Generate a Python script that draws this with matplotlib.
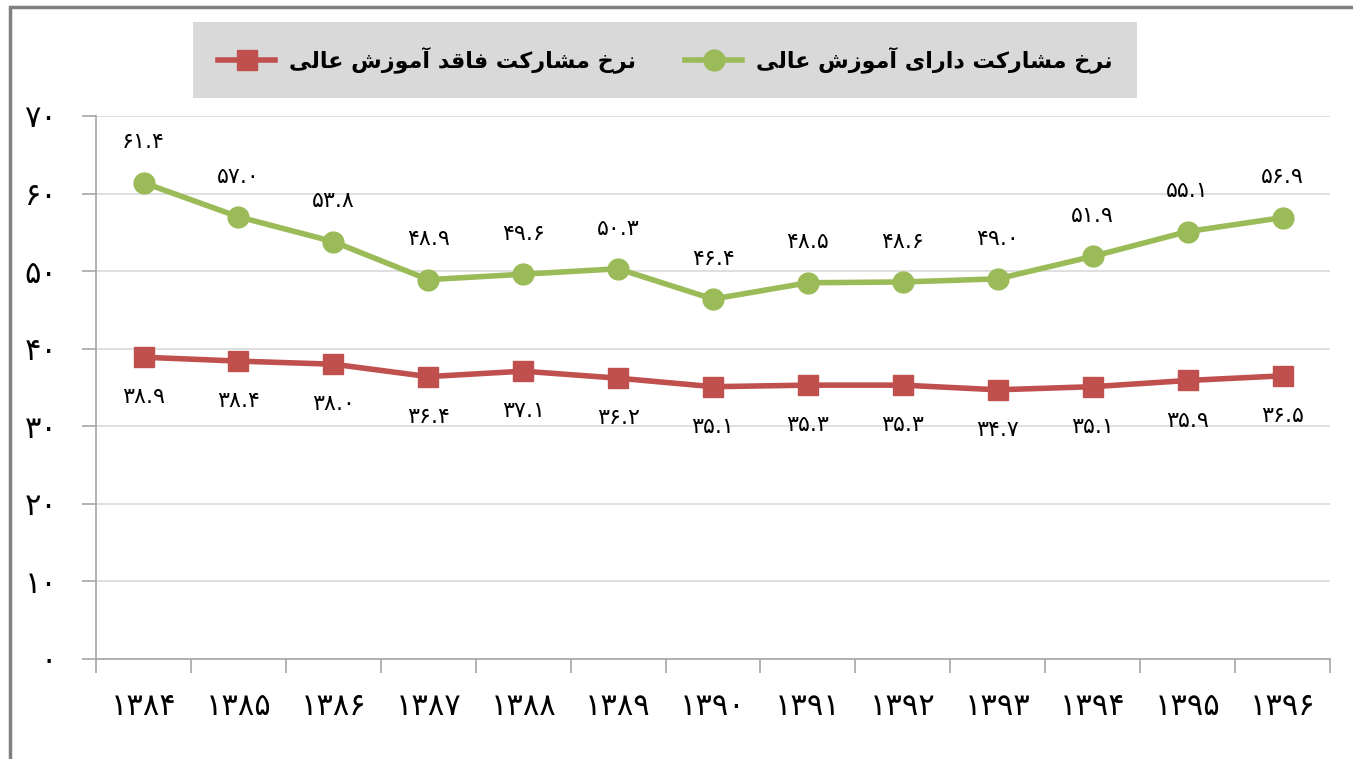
import matplotlib
matplotlib.use("Agg")
import matplotlib.pyplot as plt
from matplotlib.patches import Rectangle

# data
years = ['۱۳۸۴', '۱۳۸۵', '۱۳۸۶', '۱۳۸۷', '۱۳۸۸', '۱۳۸۹', '۱۳۹۰',
         '۱۳۹۱', '۱۳۹۲', '۱۳۹۳', '۱۳۹۴', '۱۳۹۵', '۱۳۹۶']
with_higher_edu = [61.4, 57.0, 53.8, 48.9, 49.6, 50.3, 46.4, 48.5, 48.6, 49.0, 51.9, 55.1, 56.9]
without_higher_edu = [38.9, 38.4, 38.0, 36.4, 37.1, 36.2, 35.1, 35.3, 35.3, 34.7, 35.1, 35.9, 36.5]
label_green = 'نرخ مشارکت دارای آموزش عالی'
label_red = 'نرخ مشارکت فاقد آموزش عالی'
yticks = [0, 10, 20, 30, 40, 50, 60, 70]

# minimal arabic/persian shaping: (isolated, final, initial, medial)
FORMS = {
    'ا': ('\uFE8D', '\uFE8E', None, None),
    'آ': ('\uFE81', '\uFE82', None, None),
    'د': ('\uFEA9', '\uFEAA', None, None),
    'ر': ('\uFEAD', '\uFEAE', None, None),
    'ز': ('\uFEAF', '\uFEB0', None, None),
    'و': ('\uFEED', '\uFEEE', None, None),
    'ت': ('\uFE95', '\uFE96', '\uFE97', '\uFE98'),
    'خ': ('\uFEA5', '\uFEA6', '\uFEA7', '\uFEA8'),
    'ش': ('\uFEB5', '\uFEB6', '\uFEB7', '\uFEB8'),
    'ع': ('\uFEC9', '\uFECA', '\uFECB', '\uFECC'),
    'ف': ('\uFED1', '\uFED2', '\uFED3', '\uFED4'),
    'ق': ('\uFED5', '\uFED6', '\uFED7', '\uFED8'),
    'ل': ('\uFEDD', '\uFEDE', '\uFEDF', '\uFEE0'),
    'م': ('\uFEE1', '\uFEE2', '\uFEE3', '\uFEE4'),
    'ن': ('\uFEE5', '\uFEE6', '\uFEE7', '\uFEE8'),
    'ک': ('\uFB8E', '\uFB8F', '\uFB90', '\uFB91'),
    'ی': ('\uFBFC', '\uFBFD', '\uFBFE', '\uFBFF'),
}


def shape(text):
    out = []
    for i, c in enumerate(text):
        if c not in FORMS:
            out.append(c)
            continue
        f = FORMS[c]
        prev = text[i - 1] if i > 0 else ''
        nxt = text[i + 1] if i + 1 < len(text) else ''
        jp = prev in FORMS and FORMS[prev][2] is not None
        jn = f[2] is not None and nxt in FORMS
        if jp and jn:
            out.append(f[3])
        elif jp:
            out.append(f[1])
        elif jn:
            out.append(f[2])
        else:
            out.append(f[0])
    return ''.join(reversed(out))


def fa(num):
    s = '%.1f' % num
    return s.translate(str.maketrans('0123456789', '۰۱۲۳۴۵۶۷۸۹'))


def fa_int(num):
    return str(num).translate(str.maketrans('0123456789', '۰۱۲۳۴۵۶۷۸۹'))


green = '#9BBB59'
red = '#C0504D'
grid_c = '#d9d9d9'
axis_c = '#a6a6a6'

fig = plt.figure(figsize=(13.53, 7.59), dpi=100)
ax = fig.add_axes([0.071, 0.1318, 0.912, 0.7154])

x = list(range(len(years)))
ax.plot(x, without_higher_edu, color=red, lw=4, marker='s', ms=14, zorder=3,
        label=shape(label_red))
ax.plot(x, with_higher_edu, color=green, lw=4, marker='o', ms=15, zorder=3,
        label=shape(label_green))

for i in x:
    ax.annotate(fa(with_higher_edu[i]), (i, with_higher_edu[i]), xytext=(0, 29),
                textcoords='offset points', ha='center', va='center', fontsize=16)
    ax.annotate(fa(without_higher_edu[i]), (i, without_higher_edu[i]), xytext=(0, -29),
                textcoords='offset points', ha='center', va='center', fontsize=16)

ax.set_xlim(-0.5, len(years) - 0.5)
ax.set_ylim(0, 70)
ax.set_yticks(yticks)
ax.set_yticklabels([fa_int(v) for v in yticks], fontsize=22)
ax.set_xticks(x)
ax.set_xticklabels(years, fontsize=22)
ax.set_xticks([i - 0.5 for i in range(len(years) + 1)], minor=True)
ax.tick_params(axis='x', which='major', length=0, pad=24)
ax.tick_params(axis='x', which='minor', length=10, color=axis_c, width=1.2)
ax.tick_params(axis='y', length=10, color=axis_c, width=1.2, pad=18)
ax.grid(axis='y', color=grid_c, lw=1.2)
ax.set_axisbelow(True)
for s in ['top', 'right']:
    ax.spines[s].set_visible(False)
for s in ['left', 'bottom']:
    ax.spines[s].set_color(axis_c)
    ax.spines[s].set_linewidth(1.2)

handles, labels = ax.get_legend_handles_labels()
leg = fig.legend(handles, labels, loc='center', bbox_to_anchor=(0.4915, 0.921), ncol=2,
                 facecolor='#d9d9d9', edgecolor='none', fancybox=False, framealpha=1,
                 prop={'size': 16, 'weight': 'bold'}, handlelength=2.6,
                 columnspacing=2.2, borderpad=1.1, handletextpad=0.6)

# outer chart border (top and left)
fig.add_artist(Rectangle((10 / 1353, -0.1), 1.2, 1 - 7 / 759 + 0.1, transform=fig.transFigure,
                         fill=False, edgecolor='#808080', lw=2.5))

fig.savefig('out.png', dpi=100)
